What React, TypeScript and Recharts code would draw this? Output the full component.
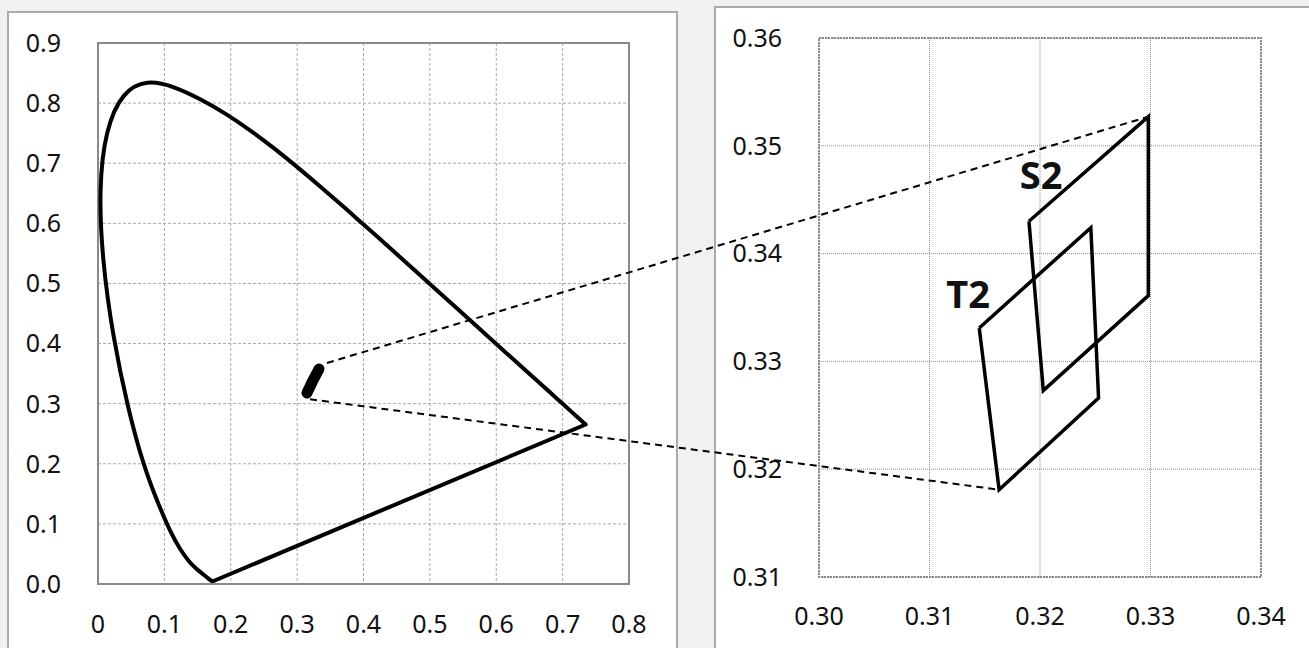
import { ScatterChart, Scatter, XAxis, YAxis, CartesianGrid, ReferenceArea, ReferenceLine } from 'recharts';

// CIE 1931 spectral locus, 380–700 nm in 5 nm steps
const spectralLocus = [
    { x: 0.1741, y: 0.0050 }, { x: 0.1740, y: 0.0050 }, { x: 0.1738, y: 0.0049 },
    { x: 0.1736, y: 0.0049 }, { x: 0.1733, y: 0.0048 }, { x: 0.1730, y: 0.0048 },
    { x: 0.1726, y: 0.0048 }, { x: 0.1721, y: 0.0048 }, { x: 0.1714, y: 0.0051 },
    { x: 0.1703, y: 0.0058 }, { x: 0.1689, y: 0.0069 }, { x: 0.1669, y: 0.0086 },
    { x: 0.1644, y: 0.0109 }, { x: 0.1611, y: 0.0138 }, { x: 0.1566, y: 0.0177 },
    { x: 0.1510, y: 0.0227 }, { x: 0.1440, y: 0.0297 }, { x: 0.1355, y: 0.0399 },
    { x: 0.1241, y: 0.0578 }, { x: 0.1096, y: 0.0868 }, { x: 0.0913, y: 0.1327 },
    { x: 0.0687, y: 0.2007 }, { x: 0.0454, y: 0.2950 }, { x: 0.0235, y: 0.4127 },
    { x: 0.0082, y: 0.5384 }, { x: 0.0039, y: 0.6548 }, { x: 0.0139, y: 0.7502 },
    { x: 0.0389, y: 0.8120 }, { x: 0.0743, y: 0.8338 }, { x: 0.1142, y: 0.8262 },
    { x: 0.1547, y: 0.8059 }, { x: 0.1929, y: 0.7816 }, { x: 0.2296, y: 0.7543 },
    { x: 0.2658, y: 0.7243 }, { x: 0.3016, y: 0.6923 }, { x: 0.3373, y: 0.6589 },
    { x: 0.3731, y: 0.6245 }, { x: 0.4087, y: 0.5896 }, { x: 0.4441, y: 0.5547 },
    { x: 0.4788, y: 0.5202 }, { x: 0.5125, y: 0.4866 }, { x: 0.5448, y: 0.4544 },
    { x: 0.5752, y: 0.4242 }, { x: 0.6029, y: 0.3965 }, { x: 0.6270, y: 0.3725 },
    { x: 0.6482, y: 0.3514 }, { x: 0.6658, y: 0.3340 }, { x: 0.6801, y: 0.3197 },
    { x: 0.6915, y: 0.3083 }, { x: 0.7006, y: 0.2993 }, { x: 0.7079, y: 0.2920 },
    { x: 0.7140, y: 0.2859 }, { x: 0.7190, y: 0.2809 }, { x: 0.7230, y: 0.2770 },
    { x: 0.7260, y: 0.2740 }, { x: 0.7283, y: 0.2717 }, { x: 0.7300, y: 0.2700 },
    { x: 0.7311, y: 0.2689 }, { x: 0.7320, y: 0.2680 }, { x: 0.7327, y: 0.2673 },
    { x: 0.7334, y: 0.2666 }, { x: 0.7340, y: 0.2660 }, { x: 0.7344, y: 0.2656 },
    { x: 0.7346, y: 0.2654 }, { x: 0.7347, y: 0.2653 },
];

// line of purples: 700 nm back to 380 nm
const purpleLine = [
    { x: 0.7347, y: 0.2653 },
    { x: 0.1741, y: 0.0050 },
];

// the two regions as one thick mark at full-diagram scale
const overviewMark = [
    { x: 0.3149, y: 0.3178 },
    { x: 0.3240, y: 0.3390 },
    { x: 0.3330, y: 0.3577 },
];

const s2Quad = [
    { x: 0.3190, y: 0.3430 }, { x: 0.3298, y: 0.3527 },
    { x: 0.3298, y: 0.3361 }, { x: 0.3203, y: 0.3273 },
    { x: 0.3190, y: 0.3430 },
];

const t2Quad = [
    { x: 0.3145, y: 0.3331 }, { x: 0.3246, y: 0.3424 },
    { x: 0.3253, y: 0.3266 }, { x: 0.3163, y: 0.3181 },
    { x: 0.3145, y: 0.3331 },
];

const quadLabels = [
    { x: 0.3201, y: 0.3474, name: 'S2' },
    { x: 0.3135, y: 0.3363, name: 'T2' },
];

// zoom connectors: start on the overview (left axes), end on the detail (right axes)
const zoomFrom = [{ x: 0.345, y: 0.3677 }, { x: 0.3194, y: 0.3073 }];
const zoomTo = [{ x: 0.3298, y: 0.3527 }, { x: 0.3163, y: 0.3181 }];

const overviewXTicks = [0, 0.1, 0.2, 0.3, 0.4, 0.5, 0.6, 0.7, 0.8];
const overviewYTicks = [0, 0.1, 0.2, 0.3, 0.4, 0.5, 0.6, 0.7, 0.8, 0.9];
const detailXTicks = [0.30, 0.31, 0.32, 0.33, 0.34];
const detailYTicks = [0.31, 0.32, 0.33, 0.34, 0.35, 0.36];

const FONT = '"Noto Sans", "Open Sans", sans-serif';
const tickStyle = { fill: '#111', fontSize: 25, fontFamily: FONT };

type Panel = {
    left: number; width: number; height: number;
    margin: { top: number; right: number; bottom: number; left: number };
    yAxisWidth: number; xAxisHeight: number;
    xDomain: [number, number]; yDomain: [number, number];
};

const overview: Panel = {
    left: 0, width: 676, height: 648,
    margin: { top: 43, right: 47, bottom: 14, left: 18 },
    yAxisWidth: 80, xAxisHeight: 50,
    xDomain: [0, 0.8], yDomain: [0, 0.9],
};

const detail: Panel = {
    left: 676, width: 633, height: 648,
    margin: { top: 38, right: 48, bottom: 21, left: 43 },
    yAxisWidth: 100, xAxisHeight: 50,
    xDomain: [0.30, 0.34], yDomain: [0.31, 0.36],
};

function plotRect(p: Panel) {
    return {
        x0: p.left + p.margin.left + p.yAxisWidth,
        x1: p.left + p.width - p.margin.right,
        y0: p.margin.top,
        y1: p.height - p.margin.bottom - p.xAxisHeight,
    };
}

// re-express a point of one panel in the data units of another panel
function transferPoint(pt: { x: number; y: number }, from: Panel, to: Panel) {
    const a = plotRect(from);
    const b = plotRect(to);
    const px = a.x0 + (pt.x - from.xDomain[0]) / (from.xDomain[1] - from.xDomain[0]) * (a.x1 - a.x0);
    const py = a.y1 - (pt.y - from.yDomain[0]) / (from.yDomain[1] - from.yDomain[0]) * (a.y1 - a.y0);
    return {
        x: to.xDomain[0] + (px - b.x0) / (b.x1 - b.x0) * (to.xDomain[1] - to.xDomain[0]),
        y: to.yDomain[0] + (b.y1 - py) / (b.y1 - b.y0) * (to.yDomain[1] - to.yDomain[0]),
    };
}

const noDot = () => <g />;

const QuadLabel = (props: any) => (
    <text
        x={props.cx}
        y={props.cy}
        textAnchor="middle"
        dominantBaseline="central"
        fontSize={38}
        fontWeight={700}
        fontFamily={FONT}
        fill="#111"
    >
        {props.payload?.name}
    </text>
);

function OverviewChart() {
    return (
        <div style={{ position: 'absolute', left: overview.left, top: 0 }}>
            <ScatterChart width={overview.width} height={overview.height} margin={overview.margin}>
                <CartesianGrid stroke="#a8a8a8" strokeDasharray="3 2" />
                <XAxis
                    type="number" dataKey="x" domain={overview.xDomain} ticks={overviewXTicks}
                    allowDataOverflow axisLine={false} tickLine={false} tickMargin={25}
                    height={overview.xAxisHeight} tick={tickStyle}
                    tickFormatter={(v: number) => (v === 0 ? '0' : v.toFixed(1))}
                />
                <YAxis
                    type="number" dataKey="y" domain={overview.yDomain} ticks={overviewYTicks}
                    allowDataOverflow axisLine={false} tickLine={false} tickMargin={31}
                    width={overview.yAxisWidth} tick={tickStyle}
                    tickFormatter={(v: number) => v.toFixed(1)}
                />
                <ReferenceArea x1={0} x2={0.8} y1={0} y2={0.9} fill="none" fillOpacity={0} stroke="#8a8a8a" strokeWidth={2} />
                <Scatter
                    data={spectralLocus} fill="#000" shape={noDot} isAnimationActive={false}
                    lineJointType="natural"
                    line={{ stroke: '#000', strokeWidth: 4, strokeLinejoin: 'round' }}
                />
                <Scatter
                    data={purpleLine} fill="#000" shape={noDot} isAnimationActive={false}
                    line={{ stroke: '#000', strokeWidth: 4, strokeLinecap: 'round' }}
                />
                <Scatter
                    data={overviewMark} fill="#000" shape={noDot} isAnimationActive={false}
                    line={{ stroke: '#000', strokeWidth: 11, strokeLinecap: 'round', strokeLinejoin: 'round' }}
                />
            </ScatterChart>
        </div>
    );
}

function DetailChart() {
    const connectors = zoomFrom.map((p, i) => [transferPoint(p, overview, detail), zoomTo[i]]);
    return (
        <div style={{ position: 'absolute', left: detail.left, top: 0 }}>
            <ScatterChart width={detail.width} height={detail.height} margin={detail.margin}>
                <CartesianGrid stroke="#8e8e8e" strokeDasharray="1 1" />
                <XAxis
                    type="number" dataKey="x" domain={detail.xDomain} ticks={detailXTicks}
                    allowDataOverflow axisLine={false} tickLine={false} tickMargin={24}
                    height={detail.xAxisHeight} tick={tickStyle}
                    tickFormatter={(v: number) => v.toFixed(2)}
                />
                <YAxis
                    type="number" dataKey="y" domain={detail.yDomain} ticks={detailYTicks}
                    allowDataOverflow axisLine={false} tickLine={false} tickMargin={31}
                    width={detail.yAxisWidth} tick={tickStyle}
                    tickFormatter={(v: number) => v.toFixed(2)}
                />
                <ReferenceArea x1={0.30} x2={0.34} y1={0.31} y2={0.36} fill="none" fillOpacity={0} stroke="#8a8a8a" strokeWidth={2} strokeDasharray="2 1" />
                {connectors.map((seg, i) => (
                    <ReferenceLine
                        key={i}
                        segment={seg}
                        ifOverflow="visible"
                        stroke="#000"
                        strokeWidth={2}
                        strokeDasharray="7 5"
                    />
                ))}
                <Scatter
                    data={s2Quad} fill="#000" shape={noDot} isAnimationActive={false}
                    line={{ stroke: '#000', strokeWidth: 3.5, strokeLinejoin: 'miter' }}
                />
                <Scatter
                    data={t2Quad} fill="#000" shape={noDot} isAnimationActive={false}
                    line={{ stroke: '#000', strokeWidth: 3.5, strokeLinejoin: 'miter' }}
                />
                <Scatter data={quadLabels} fill="#111" shape={QuadLabel} isAnimationActive={false} />
            </ScatterChart>
        </div>
    );
}

export default function App() {
    return (
        <div style={{ position: 'fixed', left: 0, top: 0, width: 1309, height: 648, background: '#f1f1f4', overflow: 'hidden' }}>
            <style>{'.recharts-surface{overflow:visible}'}</style>
            <div style={{ position: 'absolute', left: 7, top: 11, width: 667, height: 700, background: '#fff', border: '2px solid #ababab' }} />
            <div style={{ position: 'absolute', left: 714, top: 6, width: 700, height: 700, background: '#fff', border: '2px solid #ababab' }} />
            <OverviewChart />
            <DetailChart />
        </div>
    );
}
